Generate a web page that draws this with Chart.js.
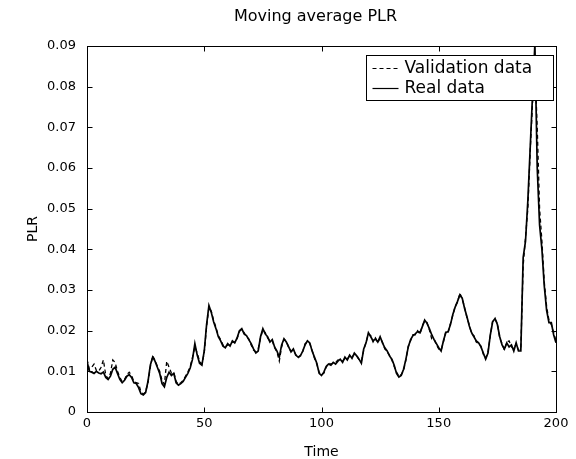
<!DOCTYPE html>
<html>
<head>
<meta charset="utf-8">
<script src="https://cdn.jsdelivr.net/npm/chart.js@4.4.1/dist/chart.umd.min.js"></script>
<style>
  html, body { margin: 0; padding: 0; background: #fff; }
  #wrap { width: 576px; height: 459px; position: relative; }
</style>
</head>
<body>
<div id="wrap"><canvas id="c" width="576" height="459"></canvas></div>
<script>
// ---- Data ----
const chartTitle = 'Moving average PLR';
const xTitle = 'Time';
const yTitle = 'PLR';
const seriesNames = ['Validation data', 'Real data'];
const xTicks = [0, 50, 100, 150, 200];
const yTicks = [0, 0.01, 0.02, 0.03, 0.04, 0.05, 0.06, 0.07, 0.08, 0.09];

// Real data, one value per time step 0..200
const realData = [
  0.0125,0.0100,0.0098,0.0095,0.0100,0.0096,0.0094,0.0098,0.0085,0.0080,
  0.0088,0.0105,0.0110,0.0095,0.0080,0.0072,0.0078,0.0088,0.0092,0.0085,
  0.0072,0.0070,0.0060,0.0045,0.0042,0.0048,0.0075,0.0115,0.0135,0.0125,
  0.0110,0.0095,0.0070,0.0062,0.0085,0.0098,0.0090,0.0095,0.0072,0.0066,
  0.0070,0.0075,0.0085,0.0095,0.0108,0.0130,0.0168,0.0140,0.0120,0.0115,
  0.0150,0.0215,0.0262,0.0245,0.0222,0.0205,0.0185,0.0175,0.0162,0.0158,
  0.0168,0.0162,0.0175,0.0170,0.0182,0.0200,0.0205,0.0192,0.0188,0.0178,
  0.0168,0.0155,0.0145,0.0150,0.0185,0.0205,0.0192,0.0185,0.0172,0.0178,
  0.0160,0.0150,0.0135,0.0165,0.0180,0.0172,0.0160,0.0148,0.0155,0.0140,
  0.0135,0.0138,0.0150,0.0165,0.0175,0.0170,0.0150,0.0135,0.0120,0.0095,
  0.0090,0.0098,0.0112,0.0118,0.0115,0.0122,0.0118,0.0125,0.0130,0.0122,
  0.0135,0.0128,0.0140,0.0132,0.0145,0.0138,0.0130,0.0120,0.0155,0.0170,
  0.0195,0.0185,0.0175,0.0180,0.0172,0.0185,0.0170,0.0158,0.0150,0.0138,
  0.0130,0.0115,0.0095,0.0086,0.0090,0.0105,0.0130,0.0160,0.0178,0.0188,
  0.0192,0.0198,0.0195,0.0210,0.0226,0.0218,0.0205,0.0190,0.0178,0.0168,
  0.0158,0.0150,0.0175,0.0195,0.0198,0.0215,0.0240,0.0258,0.0272,0.0288,
  0.0280,0.0255,0.0235,0.0212,0.0195,0.0185,0.0175,0.0170,0.0160,0.0145,
  0.0130,0.0145,0.0190,0.0222,0.0230,0.0215,0.0185,0.0165,0.0155,0.0170,
  0.0160,0.0165,0.0150,0.0170,0.0150,0.0150,0.0380,0.0420,0.0520,0.0650,
  0.0780,0.0905,0.0600,0.0460,0.0400,0.0310,0.0250,0.0220,0.0220,0.0190,
  0.0170
];

// Validation data, one value per time step 0..200
const validationData = [
  0.0130,0.0105,0.0110,0.0118,0.0102,0.0100,0.0110,0.0128,0.0090,0.0082,
  0.0095,0.0128,0.0122,0.0100,0.0085,0.0075,0.0080,0.0092,0.0098,0.0090,
  0.0075,0.0072,0.0070,0.0050,0.0044,0.0050,0.0072,0.0110,0.0138,0.0128,
  0.0112,0.0100,0.0078,0.0068,0.0125,0.0110,0.0096,0.0098,0.0075,0.0068,
  0.0072,0.0078,0.0088,0.0098,0.0112,0.0135,0.0160,0.0145,0.0125,0.0118,
  0.0145,0.0210,0.0258,0.0248,0.0225,0.0208,0.0188,0.0178,0.0165,0.0160,
  0.0165,0.0165,0.0172,0.0172,0.0180,0.0198,0.0203,0.0195,0.0185,0.0180,
  0.0165,0.0152,0.0148,0.0155,0.0182,0.0202,0.0195,0.0182,0.0175,0.0175,
  0.0158,0.0148,0.0125,0.0160,0.0178,0.0175,0.0158,0.0150,0.0152,0.0142,
  0.0132,0.0140,0.0148,0.0168,0.0172,0.0168,0.0152,0.0132,0.0118,0.0098,
  0.0092,0.0095,0.0110,0.0120,0.0118,0.0120,0.0122,0.0128,0.0126,0.0125,
  0.0132,0.0130,0.0138,0.0135,0.0142,0.0140,0.0128,0.0125,0.0152,0.0172,
  0.0192,0.0188,0.0172,0.0182,0.0170,0.0182,0.0172,0.0155,0.0148,0.0140,
  0.0128,0.0112,0.0098,0.0088,0.0092,0.0102,0.0128,0.0162,0.0175,0.0190,
  0.0190,0.0200,0.0192,0.0212,0.0224,0.0220,0.0202,0.0180,0.0180,0.0165,
  0.0155,0.0152,0.0172,0.0198,0.0195,0.0218,0.0238,0.0260,0.0270,0.0292,
  0.0278,0.0258,0.0232,0.0215,0.0192,0.0188,0.0172,0.0168,0.0162,0.0142,
  0.0132,0.0148,0.0188,0.0225,0.0228,0.0218,0.0182,0.0168,0.0152,0.0172,
  0.0175,0.0160,0.0155,0.0168,0.0152,0.0155,0.0360,0.0430,0.0500,0.0640,
  0.0760,0.0850,0.0700,0.0500,0.0420,0.0320,0.0260,0.0225,0.0215,0.0195,
  0.0175
];

const FONT = '"DejaVu Sans", Verdana, sans-serif';

const toPoints = arr => arr.map((v, i) => ({ x: i, y: v }));

// Title centred on the axes, frame, inward ticks and legend box (MATLAB style)
const matlabFrame = {
  id: 'matlabFrame',
  afterDatasetsDraw(chart) {
    const { ctx, chartArea: a, scales } = chart;
    const L = Math.round(a.left) + 0.5, R = Math.round(a.right) + 0.5;
    const T = Math.round(a.top) + 0.5, B = Math.round(a.bottom) + 0.5;
    ctx.save();
    ctx.fillStyle = '#000';
    ctx.font = '16px ' + FONT;
    ctx.textAlign = 'center';
    ctx.textBaseline = 'middle';
    ctx.fillText(chartTitle, (a.left + a.right) / 2 - 6, 17);

    ctx.strokeStyle = '#000';
    ctx.lineWidth = 1;
    ctx.strokeRect(L, T, R - L, B - T);
    const tl = 5;
    ctx.beginPath();
    scales.x.ticks.forEach(t => {
      const px = Math.round(scales.x.getPixelForValue(t.value)) + 0.5;
      ctx.moveTo(px, B); ctx.lineTo(px, B - tl);
      ctx.moveTo(px, T); ctx.lineTo(px, T + tl);
    });
    scales.y.ticks.forEach(t => {
      const py = Math.round(scales.y.getPixelForValue(t.value)) + 0.5;
      ctx.moveTo(L, py); ctx.lineTo(L + tl, py);
      ctx.moveTo(R, py); ctx.lineTo(R - tl, py);
    });
    ctx.stroke();

    // legend box
    const bx = 366.5, by = 55.5, bw = 187, bh = 45;
    ctx.fillStyle = '#fff';
    ctx.fillRect(bx, by, bw, bh);
    ctx.strokeRect(bx, by, bw, bh);
    ctx.font = '17px ' + FONT;
    ctx.textBaseline = 'middle';
    ctx.textAlign = 'left';
    chart.data.datasets.forEach((ds, i) => {
      const y = by + 13 + i * 20;
      ctx.save();
      ctx.strokeStyle = ds.borderColor;
      ctx.lineWidth = 1.2;
      ctx.setLineDash(ds.borderDash || []);
      ctx.beginPath();
      ctx.moveTo(bx + 6, y); ctx.lineTo(bx + 32, y);
      ctx.stroke();
      ctx.restore();
      ctx.fillStyle = '#000';
      ctx.fillText(ds.label, bx + 38, y);
    });
    ctx.restore();
  }
};

new Chart(document.getElementById('c'), {
  type: 'line',
  data: {
    datasets: [
      {
        label: seriesNames[0],
        data: toPoints(validationData),
        borderColor: '#000',
        borderWidth: 1.3,
        borderDash: [4, 3],
        pointRadius: 0,
        tension: 0,
        order: 2
      },
      {
        label: seriesNames[1],
        data: toPoints(realData),
        borderColor: '#000',
        borderWidth: 1.7,
        pointRadius: 0,
        tension: 0,
        order: 1
      }
    ]
  },
  options: {
    responsive: false,
    animation: false,
    events: [],
    layout: { padding: { left: 0, right: 20, top: 46, bottom: 0 } },
    plugins: {
      legend: { display: false },
      tooltip: { enabled: false },
      title: { display: false }
    },
    scales: {
      x: {
        type: 'linear',
        min: 0, max: 200,
        afterBuildTicks: s => { s.ticks = xTicks.map(v => ({ value: v })); },
        afterFit: s => { s.height = 47; },
        ticks: {
          color: '#000',
          font: { family: FONT, size: 13 },
          padding: 4,
          maxRotation: 0,
          callback: v => String(v)
        },
        grid: { display: false, drawTicks: false },
        border: { display: false },
        title: {
          display: true, text: xTitle, color: '#000',
          font: { family: FONT, size: 14 },
          padding: { top: 0, bottom: -2 }
        }
      },
      y: {
        type: 'linear',
        min: 0, max: 0.09,
        afterBuildTicks: s => { s.ticks = yTicks.map(v => ({ value: v })); },
        afterFit: s => { s.width = 87; },
        ticks: {
          color: '#000',
          font: { family: FONT, size: 13 },
          padding: 11,
          callback: v => (v === 0 ? '0' : v.toFixed(2))
        },
        grid: { display: false, drawTicks: false },
        border: { display: false },
        title: {
          display: true, text: yTitle, color: '#000',
          font: { family: FONT, size: 14 },
          padding: { top: 25, bottom: 0 }
        }
      }
    }
  },
  plugins: [matlabFrame]
});
</script>
</body>
</html>
